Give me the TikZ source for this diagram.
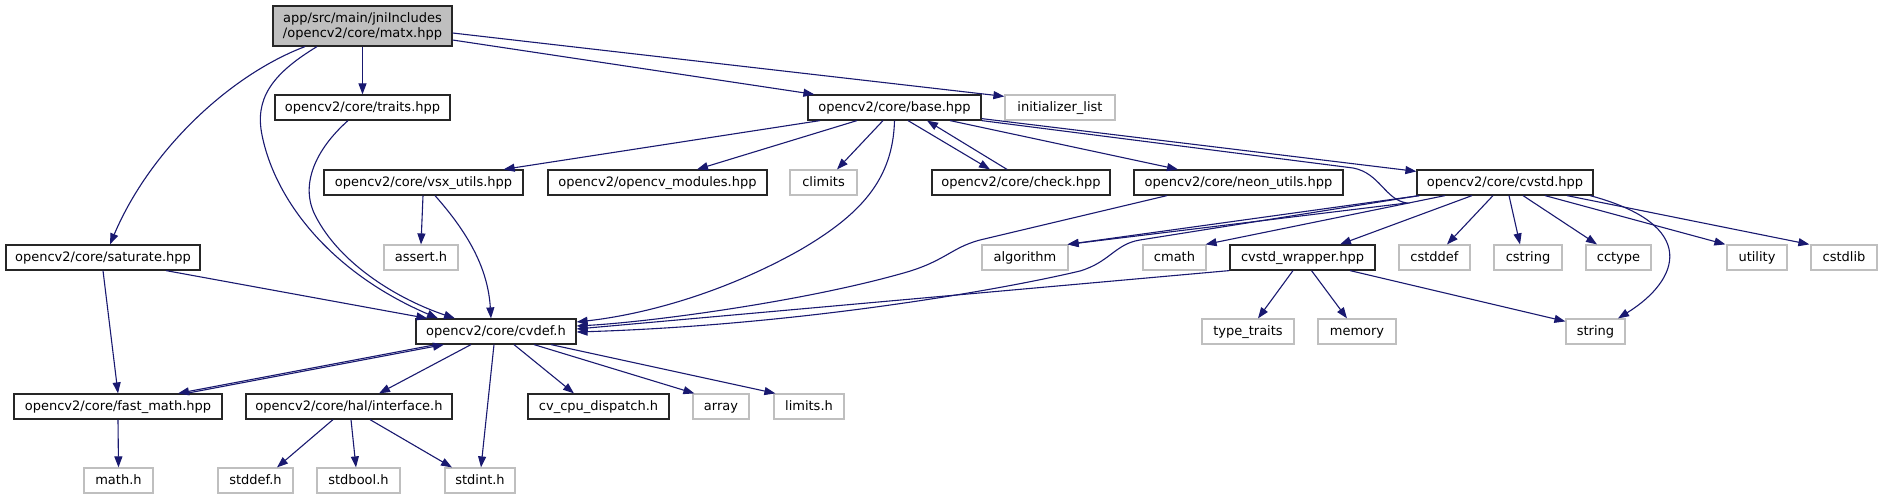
\documentclass[tikz,border=0pt]{standalone}
\usepackage{fontspec}
\setmainfont{DejaVu Sans}
\usetikzlibrary{arrows.meta}
\definecolor{edgeblue}{HTML}{191970}
\definecolor{extgray}{HTML}{BFBFBF}
\definecolor{rootfill}{HTML}{BFBFBF}
\begin{document}
\begin{tikzpicture}[x=1pt,y=-1pt,
  box/.style={draw=black!85, line width=1.2pt, fill=white, inner sep=0pt, minimum height=25pt,
    font=\fontsize{13}{15}\selectfont, text height=9.8pt, text depth=2.7pt},
  ext/.style={box, draw=extgray},
  root/.style={draw=black!85, line width=1.2pt, fill=rootfill, inner sep=0pt, minimum height=40pt,
    minimum width=179pt, align=center, font=\fontsize{13}{15}\selectfont},
  dep/.style={draw=edgeblue, line width=1.1pt, -{Triangle[length=11pt,width=8pt]}}
]
\fill[white] (0,0) rectangle (1882,500);
\useasboundingbox (0,0) rectangle (1882,500);

% rank 0
\node[root] (matx) at (362.5,26) {app/src/main/jniIncludes\\/opencv2/core/matx.hpp};
% rank 1
\node[box, minimum width=175pt] (traits) at (362.5,107.5) {opencv2/core/traits.hpp};
\node[box, minimum width=173pt] (base) at (894.5,107.5) {opencv2/core/base.hpp};
\node[ext, minimum width=110pt] (initlist) at (1060,107.5) {initializer\_list};
% rank 2
\node[box, minimum width=199pt] (vsx) at (423.5,182.5) {opencv2/core/vsx\_utils.hpp};
\node[box, minimum width=219pt] (modules) at (657.5,182.5) {opencv2/opencv\_modules.hpp};
\node[ext, minimum width=67pt] (climits) at (823.5,182.5) {climits};
\node[box, minimum width=178pt] (check) at (1021,182.5) {opencv2/core/check.hpp};
\node[box, minimum width=209pt] (neon) at (1238.5,182.5) {opencv2/core/neon\_utils.hpp};
\node[box, minimum width=176pt] (cvstd) at (1505,182.5) {opencv2/core/cvstd.hpp};
% rank 3
\node[box, minimum width=194pt] (saturate) at (103,257.5) {opencv2/core/saturate.hpp};
\node[ext, minimum width=74pt] (assert) at (421,257.5) {assert.h};
\node[ext, minimum width=86pt] (algorithm) at (1025,257.5) {algorithm};
\node[ext, minimum width=63pt] (cmath) at (1174.5,257.5) {cmath};
\node[box, minimum width=145pt] (wrapper) at (1302.5,257.5) {cvstd\_wrapper.hpp};
\node[ext, minimum width=71pt] (cstddef) at (1434.5,257.5) {cstddef};
\node[ext, minimum width=68pt] (cstring) at (1528,257.5) {cstring};
\node[ext, minimum width=65pt] (cctype) at (1618.5,257.5) {cctype};
\node[ext, minimum width=60pt] (utility) at (1757,257.5) {utility};
\node[ext, minimum width=66pt] (cstdlib) at (1844,257.5) {cstdlib};
% rank 4
\node[box, minimum width=160pt] (cvdef) at (496,331.5) {opencv2/core/cvdef.h};
\node[ext, minimum width=92pt] (typetraits) at (1248,331.5) {type\_traits};
\node[ext, minimum width=78pt] (memory) at (1357,331.5) {memory};
\node[ext, minimum width=59pt] (string) at (1595.5,331.5) {string};
% rank 5
\node[box, minimum width=208pt] (fastmath) at (118,406.5) {opencv2/core/fast\_math.hpp};
\node[box, minimum width=206pt] (interface) at (349,406.5) {opencv2/core/hal/interface.h};
\node[box, minimum width=141pt] (cpudisp) at (598.5,406.5) {cv\_cpu\_dispatch.h};
\node[ext, minimum width=56pt] (array) at (721,406.5) {array};
\node[ext, minimum width=70pt] (limits) at (809,406.5) {limits.h};
% rank 6
\node[ext, minimum width=69pt] (mathh) at (118.5,480.5) {math.h};
\node[ext, minimum width=75pt] (stddef) at (255.5,480.5) {stddef.h};
\node[ext, minimum width=83pt] (stdbool) at (358.5,480.5) {stdbool.h};
\node[ext, minimum width=70pt] (stdint) at (480,480.5) {stdint.h};

% edges from matx
\draw[dep] (matx.south) -- (traits.north);
\draw[dep] ([yshift=-14pt]matx.east) -- ([xshift=7pt]base.north west);
\draw[dep] ([yshift=-7pt]matx.east) -- ([yshift=-2pt]initlist.north west);
\draw[dep] ([xshift=-57.5pt]matx.south) .. controls (230,75) and (150,150) .. ([xshift=7pt]saturate.north);
\draw[dep] ([xshift=-45.5pt]matx.south) .. controls (270,75) and (255,100) .. (262,135)
  .. controls (275,200) and (330,272) .. ([xshift=-58pt]cvdef.north);
% traits
\draw[dep] ([xshift=-14.5pt]traits.south) .. controls (315,150) and (300,185) .. (315,215)
  .. controls (340,265) and (400,300) .. ([xshift=-41pt]cvdef.north);
% saturate
\draw[dep] ([xshift=63pt]saturate.south) -- ([xshift=12pt]cvdef.north west);
\draw[dep] (saturate.south) -- (fastmath.north);
% fast_math
\draw[dep] (fastmath.south) -- (mathh.north);
\draw[dep] ([xshift=68pt]fastmath.north) -- ([xshift=-52pt]cvdef.south);
% cvdef
\draw[dep] ([xshift=-60pt]cvdef.south) -- ([xshift=60pt]fastmath.north);
\draw[dep] ([xshift=-25pt]cvdef.south) -- ([xshift=30pt]interface.north);
\draw[dep] ([xshift=-2pt]cvdef.south) -- ([xshift=1pt]stdint.north);
\draw[dep] ([xshift=18pt]cvdef.south) -- ([xshift=-24.5pt]cpudisp.north);
\draw[dep] ([xshift=38pt]cvdef.south) -- ([xshift=2pt]array.north west);
\draw[dep] ([xshift=55pt]cvdef.south) -- ([xshift=2pt]limits.north west);
% interface
\draw[dep] ([xshift=-16pt]interface.south) -- ([xshift=21.5pt]stddef.north);
\draw[dep] ([xshift=2pt]interface.south) -- ([xshift=-2.5pt]stdbool.north);
\draw[dep] ([xshift=21pt]interface.south) -- ([xshift=-28pt]stdint.north);
% base
\draw[dep] ([xshift=-74.5pt]base.south) -- ([xshift=-20pt]vsx.north east);
\draw[dep] ([xshift=-37.5pt]base.south) -- ([xshift=39.5pt]modules.north);
\draw[dep] ([xshift=-11.5pt]base.south) -- ([xshift=13.5pt]climits.north);
\draw[dep] ([xshift=13.5pt]base.south) -- ([xshift=-31pt]check.north);
\draw[dep] ([xshift=55.5pt]base.south) -- ([xshift=-60.5pt]neon.north);
\draw[dep] ([yshift=2pt]base.south east) -- ([yshift=-2pt]cvstd.north west);
\draw[dep] (base.south east) -- (1353,168) .. controls (1380,173) and (1385,200) .. (1407,203)
  -- ([xshift=-1pt]algorithm.north east);
\draw[dep] (base.south) .. controls (893,180) and (860,215) .. (800,250)
  .. controls (720,295) and (640,315) .. ([yshift=9.5pt]cvdef.east);
% check
\draw[dep] ([xshift=-14pt]check.north) -- ([xshift=32.5pt]base.south);
% vsx
\draw[dep] ([xshift=-0.5pt]vsx.south) -- (assert.north);
\draw[dep] ([xshift=11.5pt]vsx.south) .. controls (470,235) and (488,270) .. ([xshift=-5pt]cvdef.north);
% neon
\draw[dep] ([xshift=-71.5pt]neon.south) -- (980,240) .. controls (950,248) and (945,262) .. (900,274)
  .. controls (800,302) and (650,322) .. ([yshift=5.5pt]cvdef.east);
% cvstd
\draw[dep] ([xshift=3pt]cvstd.south west) -- ([xshift=-1pt]algorithm.north east);
\draw[dep] ([xshift=3pt]cvstd.south west) -- (1140,240) .. controls (1115,244) and (1110,262) .. (1080,271)
  .. controls (1000,290) and (800,325) .. ([yshift=-0.5pt]cvdef.east);
\draw[dep] ([xshift=-60pt]cvstd.south) -- ([xshift=-1pt]cmath.north east);
\draw[dep] ([xshift=-33pt]cvstd.south) -- ([xshift=37.5pt]wrapper.north);
\draw[dep] ([xshift=-12pt]cvstd.south) -- ([xshift=12.5pt]cstddef.north);
\draw[dep] ([xshift=4pt]cvstd.south) -- ([xshift=-8pt]cstring.north);
\draw[dep] ([xshift=18pt]cvstd.south) -- ([xshift=-21.5pt]cctype.north);
\draw[dep] ([xshift=40pt]cvstd.south) -- ([xshift=-1pt]utility.north west);
\draw[dep] ([xshift=62pt]cvstd.south) -- ([xshift=-1pt]cstdlib.north west);
\draw[dep] ([xshift=85pt]cvstd.south) .. controls (1700,225) and (1680,280) .. ([xshift=22.5pt]string.north);
% cvstd_wrapper
\draw[dep] (wrapper.south west) -- ([yshift=2.5pt]cvdef.east);
\draw[dep] ([xshift=-9.5pt]wrapper.south) -- ([xshift=10pt]typetraits.north);
\draw[dep] ([xshift=9pt]wrapper.south) -- ([xshift=-10pt]memory.north);
\draw[dep] ([xshift=47.5pt]wrapper.south) -- ([yshift=-3pt]string.north west);
\end{tikzpicture}
\end{document}
